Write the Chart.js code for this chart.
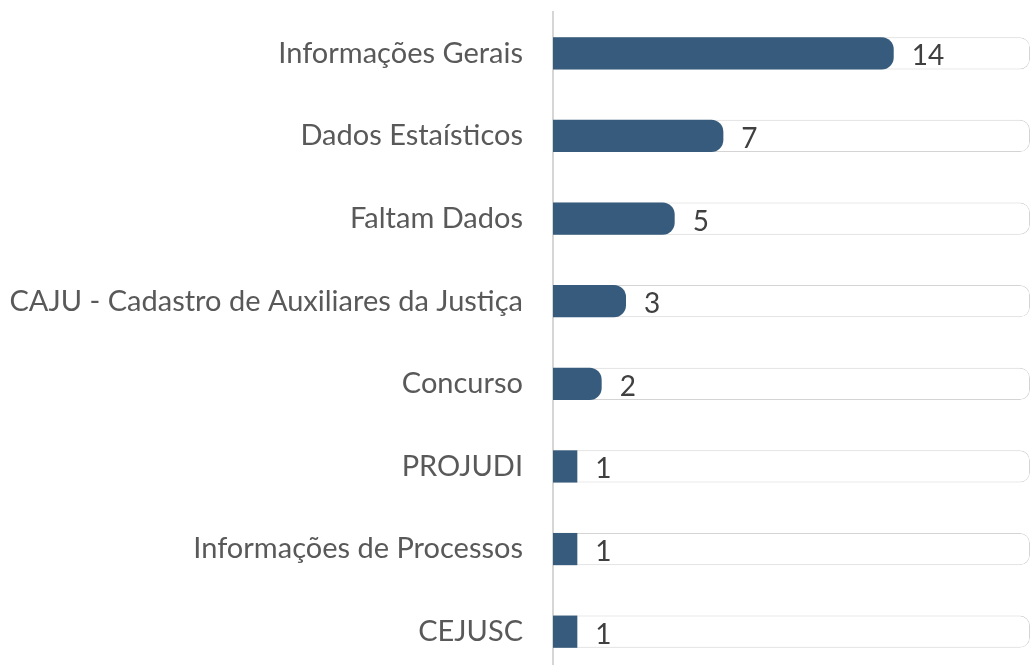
<!DOCTYPE html>
<html>
<head>
<meta charset="utf-8">
<script src="https://cdn.jsdelivr.net/npm/chart.js@4/dist/chart.umd.min.js"></script>
<style>
html,body{margin:0;padding:0;background:#fff;overflow:hidden;}
#wrap{width:1031px;height:680px;}
</style>
</head>
<body>
<div id="wrap"><canvas id="c" width="1031" height="680"></canvas></div>
<script>
const categories = ["Informações Gerais","Dados Estaísticos","Faltam Dados","CAJU - Cadastro de Auxiliares da Justiça","Concurso","PROJUDI","Informações de Processos","CEJUSC"];
const values = [14,7,5,3,2,1,1,1];
const axisMax = 19.6;
const trackValues = categories.map(() => axisMax);

const labelFont = '"Lato", "Open Sans", sans-serif';

const valueLabels = {
  id: 'valueLabels',
  afterDatasetsDraw(chart) {
    const ctx = chart.ctx;
    const meta = chart.getDatasetMeta(0);
    ctx.save();
    ctx.font = '28px ' + labelFont;
    ctx.fillStyle = '#404040';
    ctx.textAlign = 'left';
    ctx.textBaseline = 'middle';
    meta.data.forEach((bar, i) => {
      ctx.fillText(String(values[i]), bar.x + 18, bar.y + 3);
    });
    ctx.restore();
  }
};

new Chart(document.getElementById('c'), {
  type: 'bar',
  data: {
    labels: categories,
    datasets: [
      {
        data: values,
        backgroundColor: '#375b7c',
        borderWidth: 0,
        borderRadius: (c) => (values[c.dataIndex] >= 2 ? 12 : 0),
        borderSkipped: 'start',
        grouped: false,
        order: 0,
        categoryPercentage: 1,
        barPercentage: 0.39
      },
      {
        data: trackValues,
        backgroundColor: '#ffffff',
        borderColor: '#d4d4d4',
        borderWidth: 1,
        borderRadius: 10,
        borderSkipped: 'start',
        grouped: false,
        order: 1,
        categoryPercentage: 1,
        barPercentage: 0.39
      }
    ]
  },
  options: {
    indexAxis: 'y',
    responsive: false,
    animation: false,
    layout: { padding: { top: 12, bottom: 7, left: 0, right: 1 } },
    plugins: { legend: { display: false }, tooltip: { enabled: false } },
    scales: {
      x: { display: false, min: 0, max: axisMax },
      y: {
        afterFit(scale) { scale.width = 553; scale.paddingTop = 0; scale.paddingBottom = 0; },
        grid: { display: false, drawTicks: false },
        border: { display: true, color: '#d6d6d6', width: 2 },
        ticks: {
          padding: 30,
          color: '#595959',
          font: { family: labelFont, size: 29 }
        }
      }
    }
  },
  plugins: [valueLabels]
});
</script>
</body>
</html>
